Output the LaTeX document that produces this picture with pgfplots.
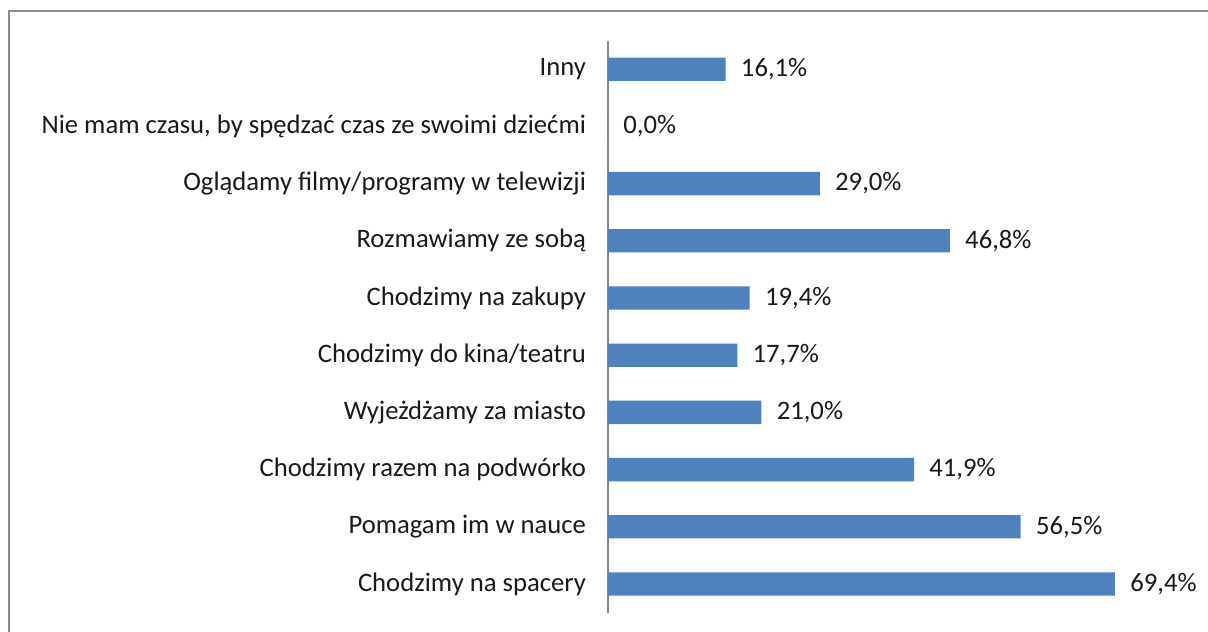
\documentclass[border=0pt]{standalone}
\usepackage{fontspec}
\setmainfont{Carlito}
\usepackage{pgfplots}
\pgfplotsset{compat=1.18}
\definecolor{barblue}{HTML}{4F81BD}
\definecolor{framegray}{HTML}{8C8C8C}
\definecolor{axgray}{HTML}{868686}
\begin{document}
\begin{tikzpicture}[x=1pt,y=1pt]
  \useasboundingbox (0,0) rectangle (906,474);
  % frame of the chart area (only top and left edges are visible)
  \draw[framegray, line width=1.3pt] (6.75,0) -- (6.75,465.6) -- (906,465.6);
  \begin{axis}[
    at={(456pt,14.55pt)}, anchor=south west,
    scale only axis,
    width=438.3pt, height=429pt,
    xbar, bar width=17.5pt,
    xmin=0, xmax=80,
    ymin=-0.5, ymax=9.5,
    axis x line=none,
    axis y line*=left,
    y axis line style={axgray, line width=0.8pt, -},
    ytick={0,...,9},
    major tick length=0pt,
    yticklabels={Chodzimy na spacery, Pomagam im w nauce, Chodzimy razem na podwórko,
      Wyjeżdżamy za miasto, Chodzimy do kina/teatru, Chodzimy na zakupy,
      Rozmawiamy ze sobą, Oglądamy filmy/programy w telewizji,
      {Nie mam czasu, by spędzać czas ze swoimi dziećmi}, Inny},
    yticklabel style={font=\fontsize{20}{24}\selectfont, text=black!90, xshift=-13pt},
    nodes near coords={\pgfmathprintnumber{\pgfplotspointmeta}\%},
    nodes near coords style={font=\fontsize{20}{24}\selectfont, text=black!90,
      anchor=west, xshift=8pt,
      /pgf/number format/.cd, fixed, fixed zerofill, precision=1, use comma, assume math mode=true},
    point meta=explicit,
  ]
    \addplot[fill=barblue, draw=none] coordinates {
      (69.4,0) [69.4]
      (56.5,1) [56.5]
      (41.9,2) [41.9]
      (21.0,3) [21.0]
      (17.7,4) [17.7]
      (19.4,5) [19.4]
      (46.8,6) [46.8]
      (29.0,7) [29.0]
      (0.0,8) [0.0]
      (16.1,9) [16.1]
    };
  \end{axis}
\end{tikzpicture}
\end{document}
